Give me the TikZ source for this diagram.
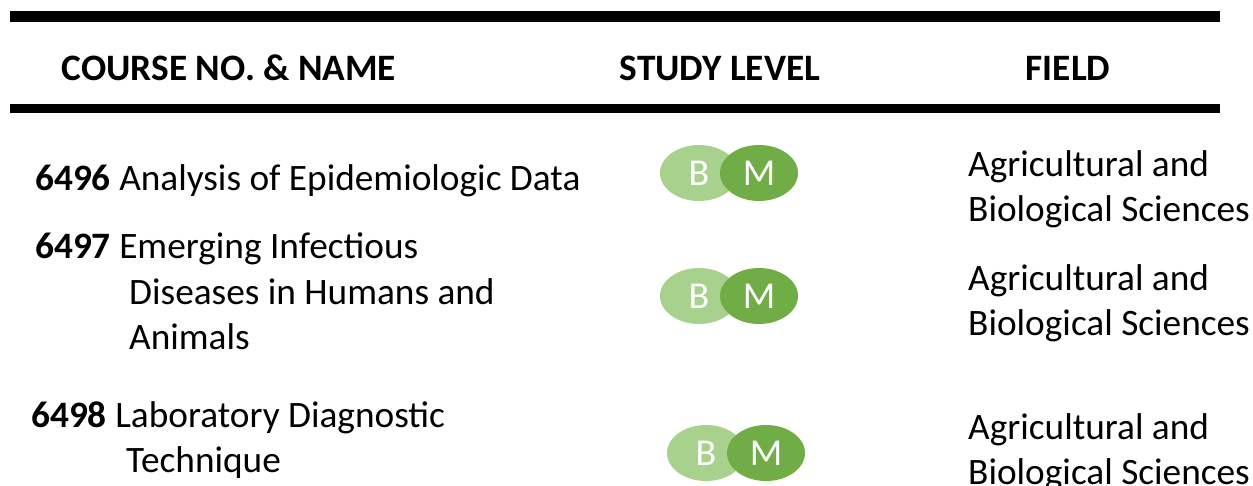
\documentclass[tikz,border=0pt]{standalone}
\usepackage{fontspec}
\setmainfont{Carlito}
\usetikzlibrary{shapes.geometric}
\definecolor{lightg}{HTML}{A9D18E}
\definecolor{darkg}{HTML}{70AD47}
\begin{document}
\begin{tikzpicture}[x=1pt,y=-1pt,
  txt/.style={anchor=base west,inner sep=0pt,font=\fontsize{37.3}{45}\selectfont},
  hdr/.style={anchor=base,inner sep=0pt,font=\fontsize{37.3}{45}\selectfont\bfseries},
  bell/.style={ellipse,fill=lightg,minimum width=78pt,minimum height=56pt,inner sep=0pt,text=white,font=\fontsize{38}{42}\selectfont},
  mell/.style={ellipse,fill=darkg,minimum width=78pt,minimum height=56pt,inner sep=0pt,text=white,font=\fontsize{38}{42}\selectfont}]
\useasboundingbox (0,0) rectangle (1253,486);
\fill (10,11) rectangle (1220,22);
\fill (10,104) rectangle (1220,113);
\node[hdr] (h1) at (229,81) {COURSE NO. \& NAME};
\node[hdr] (h2) at (720,81) {STUDY LEVEL};
\node[hdr] (h3) at (1068,81) {FIELD};
% row 1
\node[txt] (c1) at (35,191) {\textbf{6496} Analysis of Epidemiologic Data};
\node[bell] (b1) at (699,173) {B};
\node[mell] (m1) at (759,173) {M};
\node[txt] (f1a) at (968,177) {Agricultural and};
\node[txt] (f1b) at (968,222) {Biological Sciences};
% row 2
\node[txt] (c2a) at (35,259) {\textbf{6497} Emerging Infectious};
\node[txt] (c2b) at (129,305) {Diseases in Humans and};
\node[txt] (c2c) at (129,349) {Animals};
\node[bell] (b2) at (699,296) {B};
\node[mell] (m2) at (759,296) {M};
\node[txt] (f2a) at (968,291) {Agricultural and};
\node[txt] (f2b) at (968,336) {Biological Sciences};
% row 3
\node[txt] (c3a) at (31,427) {\textbf{6498} Laboratory Diagnostic};
\node[txt] (c3b) at (126,472) {Technique};
\node[bell] (b3) at (706,453) {B};
\node[mell] (m3) at (766,453) {M};
\node[txt] (f3a) at (968,439) {Agricultural and};
\node[txt] (f3b) at (968,484) {Biological Sciences};
\end{tikzpicture}
\end{document}
